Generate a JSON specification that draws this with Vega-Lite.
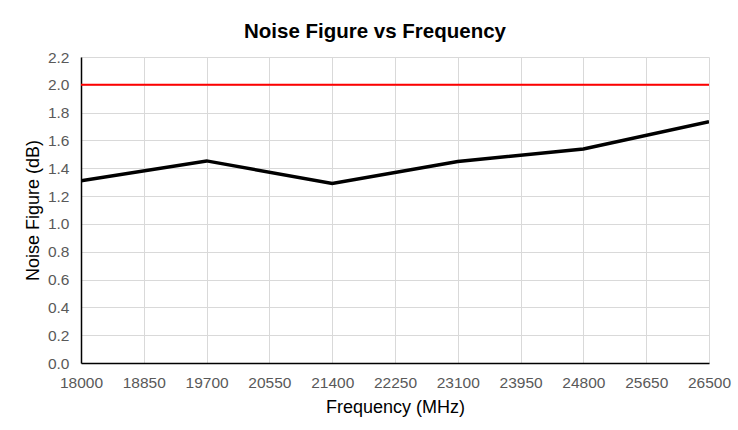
{
  "$schema": "https://vega.github.io/schema/vega-lite/v6.json",
  "width": 628,
  "height": 306,
  "autosize": "none",
  "padding": {"left": 81, "top": 57, "right": 29, "bottom": 67},
  "background": "white",
  "title": {
    "text": "Noise Figure vs Frequency",
    "font": "Liberation Sans",
    "fontSize": 20.5,
    "fontWeight": "bold",
    "color": "#000000",
    "anchor": "middle",
    "dx": -20,
    "offset": 8
  },
  "config": {
    "view": {"stroke": null},
    "axis": {
      "labelFont": "Liberation Sans",
      "titleFont": "Liberation Sans",
      "labelFontSize": 15.5,
      "titleFontSize": 18,
      "titleFontWeight": "normal",
      "labelColor": "#595959",
      "titleColor": "#000000",
      "gridColor": "#d9d9d9",
      "gridWidth": 1,
      "domainColor": "#000000",
      "domainWidth": 1.5,
      "ticks": false,
      "labelOverlap": false,
      "labelFlush": false
    }
  },
  "layer": [
    {
      "data": {
        "values": [
          {"freq": 18000, "nf": 1.31},
          {"freq": 19700, "nf": 1.453},
          {"freq": 21400, "nf": 1.29},
          {"freq": 23100, "nf": 1.449},
          {"freq": 24800, "nf": 1.538},
          {"freq": 26500, "nf": 1.735}
        ]
      },
      "mark": {"type": "line", "color": "#000000", "strokeWidth": 3.5, "clip": true},
      "encoding": {
        "x": {
          "field": "freq",
          "type": "quantitative",
          "scale": {"domain": [18000, 26500], "nice": false, "zero": false},
          "axis": {
            "title": "Frequency (MHz)",
            "values": [18000, 18850, 19700, 20550, 21400, 22250, 23100, 23950, 24800, 25650, 26500],
            "tickCount": 11,
            "format": "d",
            "labelPadding": 12,
            "titlePadding": 8
          }
        },
        "y": {
          "field": "nf",
          "type": "quantitative",
          "scale": {"domain": [0, 2.2], "nice": false},
          "axis": {
            "title": "Noise Figure (dB)",
            "values": [0, 0.2, 0.4, 0.6, 0.8, 1.0, 1.2, 1.4, 1.6, 1.8, 2.0, 2.2],
            "tickCount": 12,
            "format": ".1f",
            "labelPadding": 12,
            "titlePadding": 5
          }
        }
      }
    },
    {
      "data": {"values": [{"limit": 2.0}]},
      "mark": {"type": "rule", "color": "#ff0000", "strokeWidth": 2},
      "encoding": {
        "y": {"field": "limit", "type": "quantitative"}
      }
    }
  ]
}
